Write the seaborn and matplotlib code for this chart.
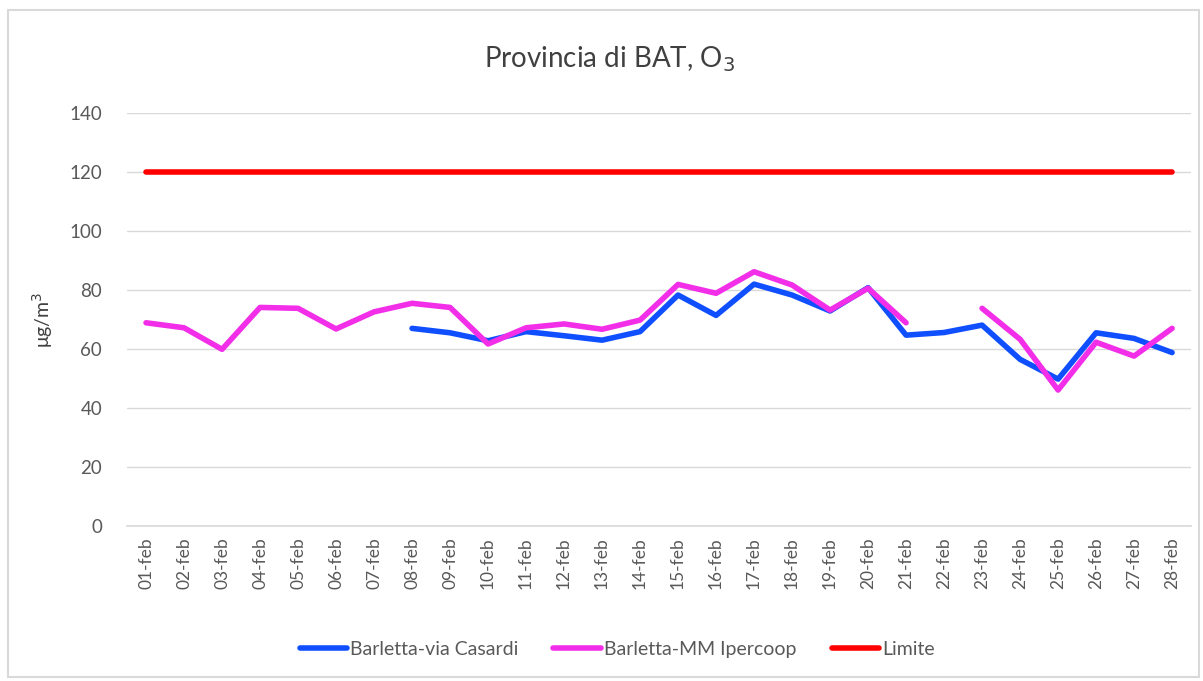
import numpy as np
import pandas as pd
import matplotlib
matplotlib.use("Agg")
import matplotlib.pyplot as plt
import seaborn as sns
from matplotlib.patches import Rectangle

# Dates and values
days = [f"{d:02d}-feb" for d in range(1, 29)]
casardi = [np.nan] * 7 + [67.0, 65.5, 62.8, 65.9, 64.5, 63.0, 65.9, 78.3, 71.4, 82.0,
                          78.3, 72.9, 80.8, 64.7, 65.6, 68.1, 56.5, 49.8, 65.5, 63.6, 58.8]
ipercoop = [68.9, 67.2, 59.9, 74.1, 73.8, 66.8, 72.6, 75.5, 74.1, 61.7, 67.2, 68.5, 66.7, 69.8,
            81.9, 78.9, 86.2, 81.7, 73.2, 80.6, 68.9, np.nan, 73.8, 63.3, 46.1, 62.3, 57.6, 67.0]
limite = [120] * 28

series_names = ["Barletta-via Casardi", "Barletta-MM Ipercoop", "Limite"]
colors = ["#0F4FFF", "#F22EE8", "#FF0000"]

# long format, with a segment id so that missing days break the line
rows = []
for name, vals in zip(series_names, [casardi, ipercoop, limite]):
    seg = 0
    for i, v in enumerate(vals):
        if np.isnan(v):
            seg += 1
            continue
        rows.append({"x": i, "value": v, "serie": name, "seg": seg})
df = pd.DataFrame(rows)

sns.set_style("white")
plt.rcParams['font.family'] = ['Lato', 'DejaVu Sans']

fig = plt.figure(figsize=(12.03, 6.81), dpi=100)
ax = fig.add_axes([0.1056, 0.2276, 0.8845, 0.6064])

sns.lineplot(data=df, x="x", y="value", hue="serie", units="seg", estimator=None,
             hue_order=series_names, palette=colors, linewidth=4,
             solid_capstyle="round", ax=ax, legend=False)

ax.set_xlim(-0.5, 27.5)
ax.set_ylim(0, 140)
ax.set_yticks(range(0, 141, 20))
ax.set_xticks(range(28))
ax.set_xticklabels(days, rotation=90)
ax.set_xticks(np.arange(-0.5, 28, 1), minor=True)
ax.tick_params(axis="x", which="major", length=0, pad=8, labelsize=12.5, labelcolor="#595959")
ax.tick_params(axis="x", which="minor", length=9, width=1, color="#d9d9d9", direction="out")
ax.tick_params(axis="y", length=0, pad=18, labelsize=13.5, labelcolor="#595959")
ax.grid(axis="y", color="#d9d9d9", linewidth=1)
ax.set_axisbelow(True)
for s in ["left", "right", "top"]:
    ax.spines[s].set_visible(False)
ax.spines["bottom"].set_color("#d9d9d9")
ax.spines["bottom"].set_linewidth(1.2)
ax.set_xlabel("")
ax.set_ylabel("μg/m$^3$", fontsize=14, color="#404040", labelpad=10)

fig.suptitle("Provincia di BAT, O$_3$", x=0.507, y=0.935, fontsize=20, color="#404040")

handles = [plt.Line2D([], [], color=c, linewidth=4, solid_capstyle="round") for c in colors]
fig.legend(handles, series_names, loc="center", bbox_to_anchor=(0.513, 0.046), ncol=3,
           frameon=False, fontsize=14, handlelength=2.45, handletextpad=0.15,
           columnspacing=1.8, labelcolor="#595959")

fig.patches.append(Rectangle((0.007, 0.006), 0.99, 0.979, transform=fig.transFigure,
                             fill=False, edgecolor="#d9d9d9", linewidth=1.5))

fig.savefig("out.png", dpi=100)
